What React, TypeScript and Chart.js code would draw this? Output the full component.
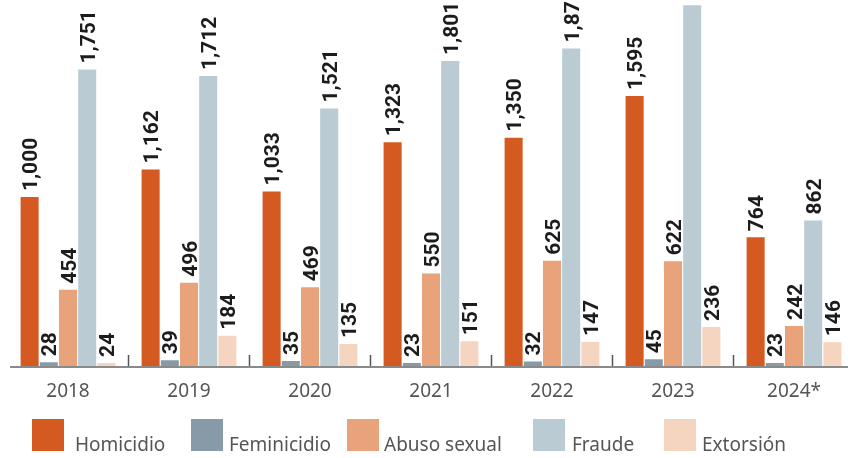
import { useEffect, useRef } from "react";
import { Chart, registerables } from "chart.js";

Chart.register(...registerables);

const years = ["2018", "2019", "2020", "2021", "2022", "2023", "2024*"];
const homicidio = [1000, 1162, 1033, 1323, 1350, 1595, 764];
const feminicidio = [28, 39, 35, 23, 32, 45, 23];
const abusoSexual = [454, 496, 469, 550, 625, 622, 242];
const fraude = [1751, 1712, 1521, 1801, 1875, 2129, 862];
const extorsion = [24, 184, 135, 151, 147, 236, 146];
const seriesNames = ["Homicidio", "Feminicidio", "Abuso sexual", "Fraude", "Extorsión"];
const seriesColors = ["#d45a21", "#869ba7", "#e8a37b", "#bacbd3", "#f6d5c0"];

const LEGEND_BOX_X = [32, 191, 347, 533, 664];
const LEGEND_TEXT_X = [75, 229, 384, 572, 702];

const decorPlugin = {
  id: "decor",
  afterDatasetsDraw(chart: any) {
    const ctx = chart.ctx;
    ctx.save();
    ctx.font = "bold 21px Roboto";
    ctx.fillStyle = "#1c1c1c";
    ctx.textAlign = "left";
    ctx.textBaseline = "alphabetic";
    chart.data.datasets.forEach((ds: any, di: number) => {
      const meta = chart.getDatasetMeta(di);
      meta.data.forEach((bar: any, i: number) => {
        const v = ds.data[i];
        const label = v.toLocaleString("en-US");
        ctx.save();
        ctx.translate(bar.x + 7.5, bar.y - 6);
        ctx.rotate(-Math.PI / 2);
        ctx.fillText(label, 0, 0);
        ctx.restore();
      });
    });
    ctx.restore();
  },
  afterDraw(chart: any) {
    const ctx = chart.ctx;
    const area = chart.chartArea;
    const xs = chart.scales.x;
    ctx.save();
    ctx.strokeStyle = "#8a8a8a";
    ctx.lineWidth = 2;
    ctx.beginPath();
    ctx.moveTo(10, area.bottom);
    ctx.lineTo(848, area.bottom);
    ctx.stroke();
    ctx.strokeStyle = "#555";
    ctx.lineWidth = 1.5;
    for (let i = 0; i < years.length - 1; i++) {
      const x = (xs.getPixelForValue(i) + xs.getPixelForValue(i + 1)) / 2;
      ctx.beginPath();
      ctx.moveTo(x, area.bottom - 12);
      ctx.lineTo(x, area.bottom - 1);
      ctx.stroke();
    }
    ctx.font = "19px 'Noto Sans'";
    ctx.textAlign = "left";
    ctx.textBaseline = "alphabetic";
    chart.data.datasets.forEach((ds: any, di: number) => {
      ctx.fillStyle = ds.backgroundColor;
      ctx.fillRect(LEGEND_BOX_X[di], 419, 32, 32);
      ctx.fillStyle = "#555";
      ctx.fillText(ds.label, LEGEND_TEXT_X[di], 451);
    });
    ctx.restore();
  },
};

export default function App() {
  const ref = useRef<HTMLCanvasElement | null>(null);
  useEffect(() => {
    if (!ref.current) return;
    const seriesData = [homicidio, feminicidio, abusoSexual, fraude, extorsion];
    const chart = new Chart(ref.current, {
      type: "bar",
      data: {
        labels: years,
        datasets: seriesData.map((d, i) => ({
          label: seriesNames[i],
          data: d,
          backgroundColor: seriesColors[i],
          borderWidth: 0,
          categoryPercentage: 0.793,
          barPercentage: 0.94,
        })),
      },
      options: {
        responsive: false,
        animation: false,
        layout: { padding: { left: 7.5, right: 0.5, top: 0, bottom: 0 } },
        plugins: { legend: { display: false }, tooltip: { enabled: false } },
        scales: {
          x: {
            grid: { display: false, drawTicks: false },
            border: { display: false },
            ticks: {
              color: "#555",
              font: { family: "'Noto Sans'", size: 19 },
              padding: 13,
              maxRotation: 0,
            },
            afterFit: (scale: any) => {
              scale.height = 91;
            },
          },
          y: {
            display: false,
            min: 0,
            max: 2160,
          },
        },
      },
      plugins: [decorPlugin],
    });
    return () => chart.destroy();
  }, []);
  return (
    <div style={{ position: "absolute", left: 0, top: 0, width: 855, height: 458, background: "#fff" }}>
      <canvas ref={ref} width={855} height={458} />
    </div>
  );
}
